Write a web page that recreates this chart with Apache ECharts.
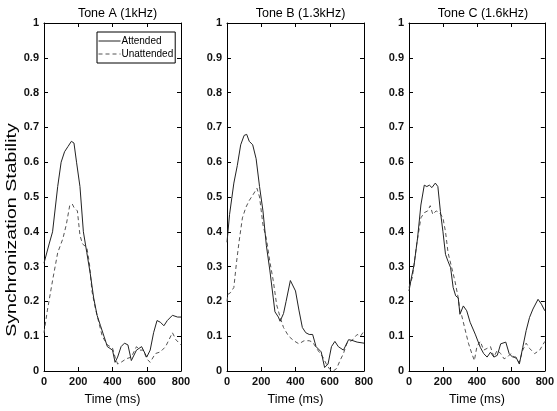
<!DOCTYPE html>
<html><head><meta charset="utf-8">
<script src="https://cdn.jsdelivr.net/npm/echarts@6/dist/echarts.min.js"></script>
<style>html,body{margin:0;padding:0;background:#fff}#c{width:557px;height:411px}</style>
</head><body><div id="c"></div>
<script>
const panelTitles = ['Tone A (1kHz)', 'Tone B (1.3kHz)', 'Tone C (1.6kHz)'];
const seriesNames = ['Attended', 'Unattended'];
const yAxisTitle = 'Synchronization Stability';
const xAxisTitle = 'Time (ms)';

const aAttT = [0,30,50,80,100,120,140,160,175,190,210,230,250,270,290,310,330,350,370,400,415,430,450,470,490,510,520,540,570,600,620,640,660,680,700,720,750,780,800];
const aAttV = [0.31,0.365,0.40,0.53,0.60,0.63,0.645,0.66,0.655,0.60,0.53,0.40,0.34,0.28,0.21,0.16,0.13,0.10,0.07,0.06,0.025,0.04,0.07,0.08,0.075,0.03,0.025,0.06,0.07,0.04,0.06,0.11,0.145,0.14,0.13,0.145,0.16,0.155,0.155];
const aUnaT = [0,20,50,80,110,130,150,165,175,195,210,225,250,265,280,300,320,340,370,400,415,430,450,480,510,540,560,580,600,620,650,680,710,730,750,770,800];
const aUnaV = [0.11,0.175,0.26,0.34,0.38,0.42,0.475,0.48,0.47,0.46,0.39,0.365,0.355,0.31,0.23,0.18,0.14,0.10,0.075,0.066,0.04,0.02,0.025,0.035,0.04,0.07,0.06,0.06,0.035,0.025,0.05,0.055,0.07,0.09,0.11,0.09,0.075];

const bAttT = [0,15,40,60,80,100,115,130,150,170,190,210,230,250,270,280,300,310,330,345,370,380,400,420,440,460,480,500,520,550,570,590,610,630,650,680,710,730,760,800];
const bAttV = [0.37,0.45,0.54,0.59,0.65,0.677,0.68,0.66,0.65,0.61,0.53,0.46,0.36,0.29,0.21,0.17,0.155,0.143,0.165,0.20,0.26,0.265,0.23,0.175,0.125,0.11,0.105,0.105,0.07,0.055,0.01,0.02,0.07,0.085,0.07,0.06,0.09,0.088,0.083,0.08];
const bUnaT = [0,5,20,40,55,70,90,110,130,150,175,190,210,230,250,270,290,310,330,360,390,420,450,480,500,530,560,580,600,620,640,660,680,700,730,760,780,800];
const bUnaV = [0.20,0.22,0.225,0.24,0.31,0.37,0.44,0.47,0.49,0.505,0.525,0.50,0.42,0.38,0.315,0.26,0.19,0.155,0.125,0.10,0.087,0.078,0.087,0.087,0.083,0.06,0.04,0.02,0.005,0.0,0.007,0.03,0.05,0.08,0.088,0.105,0.10,0.115];

const cAttT = [0,15,30,50,70,90,105,120,135,155,170,185,200,215,230,245,260,275,290,300,320,340,360,390,420,440,460,480,500,520,540,570,590,610,630,650,670,690,710,730,760,780,790,800];
const cAttV = [0.23,0.27,0.305,0.38,0.477,0.534,0.53,0.534,0.527,0.54,0.53,0.458,0.40,0.335,0.315,0.297,0.24,0.216,0.21,0.163,0.187,0.173,0.14,0.106,0.068,0.05,0.04,0.054,0.04,0.045,0.078,0.083,0.05,0.04,0.04,0.02,0.068,0.116,0.154,0.178,0.206,0.192,0.197,0.173];
const cUnaT = [0,20,45,70,90,110,125,140,160,180,200,215,230,250,270,290,300,310,330,350,370,385,400,420,440,460,480,500,520,540,560,580,600,620,650,670,690,710,740,770,800];
const cUnaV = [0.24,0.27,0.363,0.44,0.455,0.46,0.475,0.45,0.46,0.455,0.44,0.40,0.34,0.30,0.26,0.21,0.17,0.16,0.12,0.08,0.05,0.03,0.07,0.085,0.06,0.065,0.07,0.04,0.06,0.05,0.035,0.04,0.05,0.04,0.025,0.06,0.08,0.065,0.05,0.06,0.085];

function pairs(t, v) { return t.map((x, i) => [x, v[i]]); }
const panelData = [
  [pairs(aAttT, aAttV), pairs(aUnaT, aUnaV)],
  [pairs(bAttT, bAttV), pairs(bUnaT, bUnaV)],
  [pairs(cAttT, cAttV), pairs(cUnaT, cUnaV)]
];

const lefts = [44, 227, 409];
const widths = [137, 137, 138];
const font = 'Liberation Sans, Arial, sans-serif';
const grids = [], xAxes = [], yAxes = [], series = [], titles = [];
const axisLine = { show: true, onZero: false, lineStyle: { color: '#000', width: 1 } };
const tick = { show: true, inside: true, length: 4, lineStyle: { color: '#000' } };

for (let p = 0; p < 3; p++) {
  grids.push({ left: lefts[p], width: widths[p], top: 23, height: 352, containLabel: false });
  titles.push({ text: panelTitles[p], left: lefts[p] + widths[p] / 2, top: 2, textAlign: 'center',
    textStyle: { fontFamily: font, fontSize: 12.5, fontWeight: 'normal', color: '#000' } });
  xAxes.push({ type: 'value', gridIndex: p, min: 0, max: 800, interval: 200, position: 'bottom',
    axisLine, axisTick: tick, splitLine: { show: false },
    axisLabel: { fontFamily: font, fontSize: 11, fontWeight: 'bold', color: '#111', margin: 5, showMaxLabel: true, showMinLabel: true },
    name: xAxisTitle, nameLocation: 'middle', nameGap: 22,
    nameTextStyle: { fontFamily: font, fontSize: 12.5, color: '#000' } });
  xAxes.push({ type: 'value', gridIndex: p, min: 0, max: 800, interval: 200, position: 'top',
    axisLine, axisTick: tick, axisLabel: { show: false }, splitLine: { show: false } });
  yAxes.push({ type: 'value', gridIndex: p, min: 0, max: 1, interval: 0.1, position: 'left',
    axisLine, axisTick: tick, splitLine: { show: false },
    axisLabel: { fontFamily: font, fontSize: 11, fontWeight: 'bold', color: '#111', margin: 5,
      formatter: v => String(Math.round(v * 10) / 10) } });
  yAxes.push({ type: 'value', gridIndex: p, min: 0, max: 1, interval: 0.1, position: 'right',
    axisLine, axisTick: tick, axisLabel: { show: false }, splitLine: { show: false } });
  series.push({ name: seriesNames[0], type: 'line', xAxisIndex: 2 * p, yAxisIndex: 2 * p,
    data: panelData[p][0], showSymbol: false, symbol: 'none', smooth: false,
    lineStyle: { color: '#222', width: 1, type: 'solid' }, itemStyle: { color: '#222' }, z: 3, animation: false });
  series.push({ name: seriesNames[1], type: 'line', xAxisIndex: 2 * p, yAxisIndex: 2 * p,
    data: panelData[p][1], showSymbol: false, symbol: 'none', smooth: false,
    lineStyle: { color: '#555', width: 1, type: [4, 3] }, itemStyle: { color: '#555' }, z: 2, animation: false });
}

const chart = echarts.init(document.getElementById('c'), null, { renderer: 'canvas' });
chart.setOption({
  backgroundColor: '#fff',
  animation: false,
  title: titles,
  grid: grids,
  xAxis: xAxes,
  yAxis: yAxes,
  graphic: [{
    type: 'text', x: 12, y: 230, rotation: Math.PI / 2, scaleX: 1.4, scaleY: 1,
    style: { text: yAxisTitle, fontFamily: font, fontSize: 14, fill: '#000', textAlign: 'center', textVerticalAlign: 'middle' }
  }],
  legend: {
    data: seriesNames, orient: 'vertical', left: 97, top: 32,
    backgroundColor: '#fff', borderColor: '#000', borderWidth: 1, padding: [4, 2, 4, 1],
    itemWidth: 22, itemHeight: 10, itemGap: 3,
    itemStyle: { opacity: 0 },
    lineStyle: { width: 1 },
    textStyle: { fontFamily: font, fontSize: 10, color: '#000', padding: [0, 0, 0, -4] }
  },
  series
});
</script></body></html>
